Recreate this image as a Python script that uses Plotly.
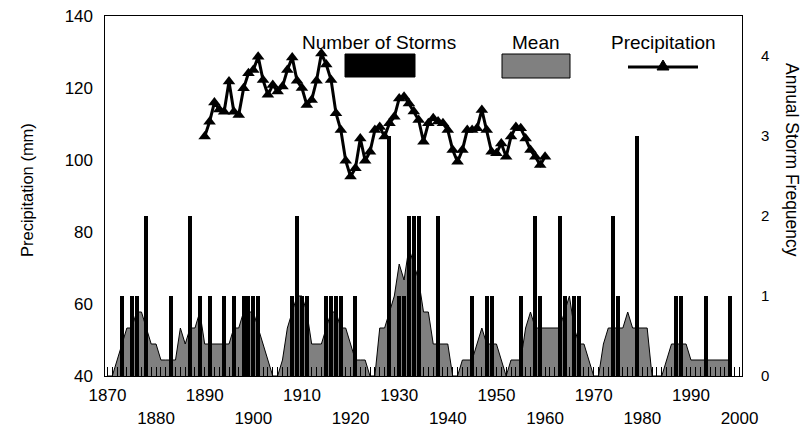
import plotly.graph_objects as go

# ---------------- data ----------------
years = list(range(1870, 2001))

storm_counts = [
    0, 0, 0, 1, 0, 1, 1, 0, 2, 0,   # 1870s
    0, 0, 0, 1, 0, 0, 0, 2, 0, 1,   # 1880s
    0, 1, 0, 0, 1, 0, 1, 0, 1, 1,   # 1890s
    1, 1, 0, 0, 0, 0, 0, 0, 1, 2,   # 1900s
    1, 1, 0, 0, 0, 1, 1, 1, 1, 0,   # 1910s
    0, 1, 0, 0, 0, 0, 0, 0, 3, 0,   # 1920s
    1, 1, 2, 2, 2, 0, 0, 0, 2, 0,   # 1930s
    0, 0, 0, 0, 0, 1, 0, 0, 1, 1,   # 1940s
    0, 0, 0, 0, 0, 1, 0, 0, 2, 1,   # 1950s
    0, 0, 0, 2, 1, 0, 1, 1, 0, 0,   # 1960s
    0, 0, 0, 0, 2, 1, 0, 0, 0, 3,   # 1970s
    0, 0, 0, 0, 0, 0, 0, 1, 1, 0,   # 1980s
    0, 0, 0, 1, 0, 0, 0, 0, 1, 0,   # 1990s
    0,                              # 2000
]

mean_years = list(range(1870, 1999))
mean_values = [
    0, 0, 0.2, 0.4, 0.6, 0.6, 0.8, 0.8, 0.6, 0.4,
    0.4, 0.2, 0.2, 0.2, 0.2, 0.6, 0.4, 0.6, 0.6, 0.8,
    0.4, 0.4, 0.4, 0.4, 0.4, 0.4, 0.6, 0.6, 0.8, 0.8,
    0.8, 0.6, 0.4, 0.2, 0, 0, 0.2, 0.6, 0.8, 1.0,
    1.0, 0.8, 0.4, 0.4, 0.4, 0.6, 0.8, 0.8, 0.6, 0.6,
    0.4, 0.2, 0.2, 0.2, 0, 0, 0.6, 0.6, 0.8, 1.0,
    1.4, 1.2, 1.6, 1.4, 1.2, 0.8, 0.8, 0.4, 0.4, 0.4,
    0.4, 0, 0, 0.2, 0.2, 0.2, 0.4, 0.6, 0.4, 0.4,
    0.4, 0.2, 0, 0.2, 0.2, 0.2, 0.6, 0.8, 0.6, 0.6,
    0.6, 0.6, 0.6, 0.6, 0.8, 1.0, 0.6, 0.4, 0.4, 0.2,
    0, 0, 0.4, 0.6, 0.6, 0.6, 0.6, 0.8, 0.6, 0.6,
    0.6, 0.6, 0, 0, 0, 0.2, 0.4, 0.4, 0.4, 0.4,
    0.2, 0.2, 0.2, 0.2, 0.2, 0.2, 0.2, 0.2, 0.2,
]

precip_years = list(range(1890, 1961))
precip_mm = [
    106.5, 110.6, 116.0, 114.0, 113.4, 121.8, 113.4, 112.5, 119.9, 124.1,
    125.0, 128.7, 122.2, 118.1, 120.8, 119.0, 120.4, 125.0, 128.5, 122.0,
    120.0, 115.3, 116.7, 122.0, 129.6, 126.5, 122.2, 113.0, 108.3, 99.8,
    95.4, 97.7, 106.0, 99.8, 102.3, 108.3, 109.2, 106.5, 110.2, 112.0,
    117.1, 117.6, 115.7, 113.5, 111.1, 105.1, 110.2, 111.6, 110.7, 110.2,
    108.3, 102.8, 99.5, 102.8, 108.3, 108.3, 108.8, 113.9, 108.3, 102.3,
    101.9, 104.6, 100.9, 106.5, 109.2, 108.8, 106.0, 102.8, 100.9, 98.6,
    100.9,
]

x_tick_vals = list(range(1870, 2001, 10))
x_tick_text = ["1870", "<br>1880", "1890", "<br>1900", "1910", "<br>1920", "1930",
               "<br>1940", "1950", "<br>1960", "1970", "<br>1980", "1990", "<br>2000"]
left_ticks = [40, 60, 80, 100, 120, 140]
right_ticks = [0, 1, 2, 3, 4]

FONT = "Arial, 'Liberation Sans', sans-serif"

fig = go.Figure()

# Mean (area) on main right axis
fig.add_trace(go.Scatter(
    x=mean_years, y=mean_values, mode="lines", fill="tozeroy",
    fillcolor="#808080", line=dict(color="#000000", width=1),
    yaxis="y", showlegend=False, hoverinfo="skip"))

# Number of storms (bars) on overlay axis with same scale
fig.add_trace(go.Bar(
    x=years, y=storm_counts, width=0.82, marker=dict(color="#000000", line=dict(width=0)),
    yaxis="y2", showlegend=False, hoverinfo="skip"))

# Precipitation line on left axis (overlay on top)
fig.add_trace(go.Scatter(
    x=precip_years, y=precip_mm, mode="lines+markers",
    line=dict(color="#000000", width=3),
    marker=dict(symbol="triangle-up", size=11, color="#000000"),
    yaxis="y3", showlegend=False, hoverinfo="skip"))

W, H = 802, 436
L, R, T, B = 105, 60, 16, 60
pw, ph = W - L - R, H - T - B

def px(x):
    return (x - L) / pw

def py(y):
    return (H - B - y) / ph

shapes = [
    dict(type="rect", xref="paper", yref="paper", x0=px(345), x1=px(415), y0=py(77), y1=py(54),
         fillcolor="#000000", line=dict(color="#000000", width=1)),
    dict(type="rect", xref="paper", yref="paper", x0=px(502), x1=px(570), y0=py(78), y1=py(54),
         fillcolor="#808080", line=dict(color="#000000", width=1)),
    dict(type="line", xref="paper", yref="paper", x0=px(628), x1=px(698), y0=py(67), y1=py(67),
         line=dict(color="#000000", width=3)),
    dict(type="path", xref="paper", yref="paper",
         path=f"M {px(663)},{py(60)} L {px(669)},{py(70)} L {px(657)},{py(70)} Z",
         fillcolor="#000000", line=dict(color="#000000", width=1)),
]

annotations = [
    dict(text="Number of Storms", x=px(379), y=py(43), xref="paper", yref="paper",
         showarrow=False, font=dict(size=19, color="#000000", family=FONT), xanchor="center", yanchor="middle"),
    dict(text="Mean", x=px(536), y=py(43), xref="paper", yref="paper",
         showarrow=False, font=dict(size=19, color="#000000", family=FONT), xanchor="center", yanchor="middle"),
    dict(text="Precipitation", x=px(663), y=py(43), xref="paper", yref="paper",
         showarrow=False, font=dict(size=19, color="#000000", family=FONT), xanchor="center", yanchor="middle"),
    dict(text="Precipitation (mm)", x=px(27), y=py(190), xref="paper", yref="paper",
         showarrow=False, textangle=-90, font=dict(size=16.5, color="#000000", family=FONT),
         xanchor="center", yanchor="middle"),
    dict(text="Annual Storm Frequency", x=px(792), y=py(160), xref="paper", yref="paper",
         showarrow=False, textangle=90, font=dict(size=17.5, color="#000000", family=FONT),
         xanchor="center", yanchor="middle"),
]

fig.update_layout(
    template="none",
    width=W, height=H,
    margin=dict(l=L, r=R, t=T, b=B, pad=0),
    paper_bgcolor="white", plot_bgcolor="white",
    font=dict(family=FONT, color="#000000"),
    showlegend=False,
    bargap=0,
    shapes=shapes,
    annotations=annotations,
    xaxis=dict(
        range=[1869.5, 2000.5], tickmode="array", tickvals=x_tick_vals, ticktext=x_tick_text,
        ticks="inside", ticklen=9, tickcolor="#000000", tickwidth=1,
        minor=dict(dtick=1, tick0=1870, ticks="inside", ticklen=9, tickcolor="#000000", tickwidth=1),
        showgrid=False, zeroline=False, showline=True, linecolor="#000000", linewidth=1, mirror=True,
        tickfont=dict(size=17, family=FONT, color="#000000"), ticklabelstandoff=4,
        automargin=False,
    ),
    yaxis=dict(
        side="right", range=[0, 4.5], tickmode="array", tickvals=right_ticks,
        ticks="", showgrid=False, zeroline=False, showline=True, linecolor="#000000",
        linewidth=1, mirror=True, tickfont=dict(size=15, family=FONT, color="#000000"),
        ticklabelstandoff=15, automargin=False,
    ),
    yaxis2=dict(overlaying="y", range=[0, 4.5], visible=False),
    yaxis3=dict(
        overlaying="y", side="left", range=[40, 140], tickmode="array", tickvals=left_ticks,
        ticks="", showgrid=False, zeroline=False, showline=False,
        tickfont=dict(size=17, family=FONT, color="#000000"), ticklabelstandoff=11,
        automargin=False,
    ),
)

fig.write_html("out.html")
